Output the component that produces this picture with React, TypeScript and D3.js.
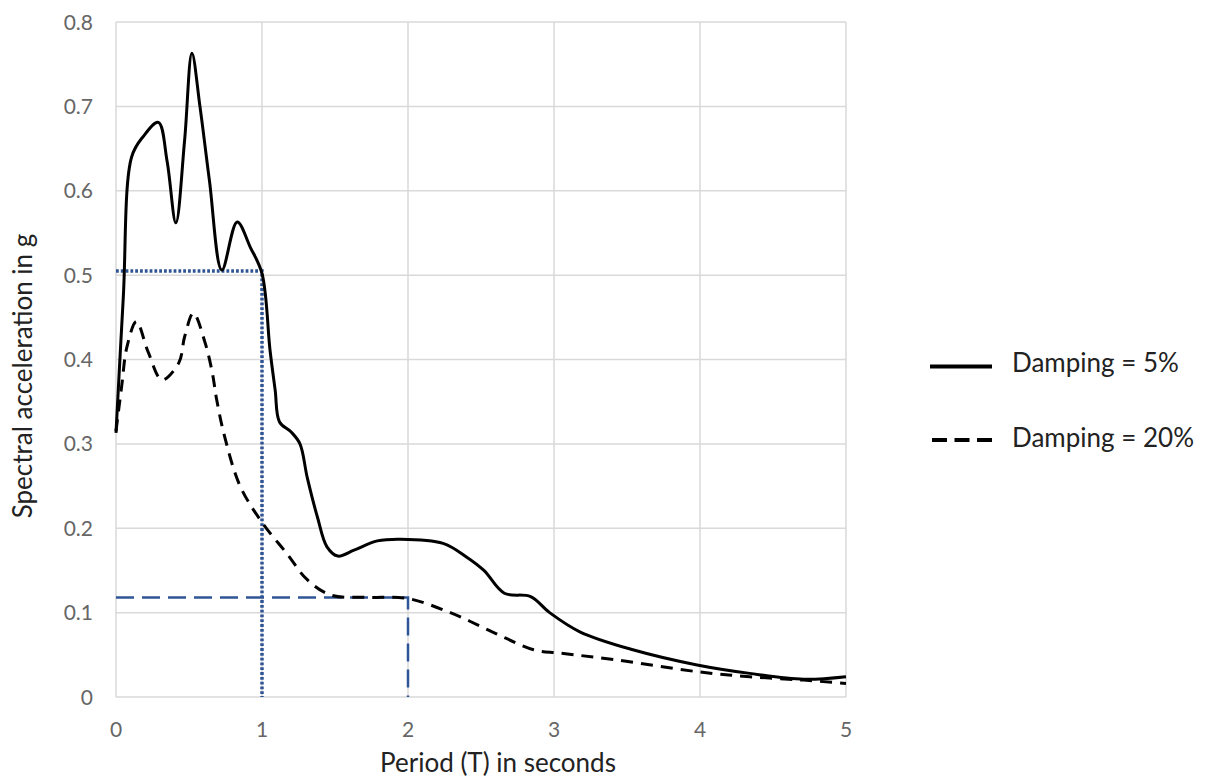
import React from "react";
import * as d3 from "d3";

const xTicks = [0, 1, 2, 3, 4, 5];
const yTicks = [0, 0.1, 0.2, 0.3, 0.4, 0.5, 0.6, 0.7, 0.8];

const period5 = [0, 0.05, 0.107, 0.185, 0.29, 0.35, 0.41, 0.47, 0.52, 0.575, 0.64, 0.725, 0.83, 0.92, 1.0, 1.055, 1.09, 1.12, 1.2, 1.26, 1.31, 1.38, 1.445, 1.52, 1.63, 1.79, 1.95, 2.24, 2.4, 2.52, 2.66, 2.84, 2.97, 3.18, 3.54, 3.98, 4.34, 4.71, 5.0];
const sa5 = [0.313, 0.474, 0.64, 0.664, 0.681, 0.635, 0.562, 0.66, 0.763, 0.7, 0.612, 0.506, 0.563, 0.533, 0.502, 0.411, 0.364, 0.326, 0.314, 0.3, 0.26, 0.213, 0.178, 0.167, 0.174, 0.185, 0.187, 0.182, 0.166, 0.15, 0.123, 0.119, 0.1, 0.077, 0.056, 0.038, 0.028, 0.021, 0.024];

const period20 = [0, 0.04, 0.075, 0.14, 0.22, 0.315, 0.43, 0.47, 0.53, 0.61, 0.66, 0.69, 0.745, 0.85, 1.0, 1.17, 1.31, 1.47, 1.72, 1.99, 2.29, 2.58, 2.86, 3.04, 3.43, 3.98, 4.34, 4.71, 5.0];
const sa20 = [0.315, 0.37, 0.415, 0.445, 0.409, 0.376, 0.396, 0.427, 0.455, 0.42, 0.384, 0.352, 0.308, 0.25, 0.207, 0.17, 0.139, 0.121, 0.118, 0.117, 0.1, 0.077, 0.056, 0.052, 0.044, 0.03, 0.024, 0.02, 0.016];

// reference guide lines: [period, Sa]
const dottedGuide = [[0, 0.505], [1, 0.505], [1, 0]];
const dashedGuide = [[0, 0.118], [2, 0.118], [2, 0]];

const legendLabels = ["Damping = 5%", "Damping = 20%"];

const W = 1207, H = 780;
const left = 116, right = 846, top = 22, bottom = 697;
const FONT = "Lato, 'Open Sans', sans-serif";

export default function App() {
  const x = d3.scaleLinear().domain([0, 5]).range([left, right]);
  const y = d3.scaleLinear().domain([0, 0.8]).range([bottom, top]);
  const line = d3
    .line<[number, number]>()
    .x((d) => x(d[0]))
    .y((d) => y(d[1]))
    .curve(d3.curveCatmullRom.alpha(0.5));
  const straight = d3
    .line<number[]>()
    .x((d) => x(d[0]))
    .y((d) => y(d[1]));

  const d5 = period5.map((p, i) => [p, sa5[i]] as [number, number]);
  const d20 = period20.map((p, i) => [p, sa20[i]] as [number, number]);
  const blue = "#2F5597";

  return (
    <svg width={W} height={H} style={{ position: "absolute", left: 0, top: 0, background: "#fff" }}>
      {yTicks.map((t) => (
        <line key={"gy" + t} x1={left} x2={right} y1={y(t)} y2={y(t)} stroke="#d9d9d9" strokeWidth={1.5} />
      ))}
      {xTicks.map((t) => (
        <line key={"gx" + t} x1={x(t)} x2={x(t)} y1={top} y2={bottom} stroke="#d9d9d9" strokeWidth={1.5} />
      ))}
      {yTicks.map((t) => (
        <text key={"ty" + t} x={93} y={y(t)} dy="0.36em" textAnchor="end" fontFamily={FONT} fontSize={21} fill="#666">
          {t === 0 ? "0" : t.toFixed(1)}
        </text>
      ))}
      {xTicks.map((t) => (
        <text key={"tx" + t} x={x(t)} y={729} dy="0.36em" textAnchor="middle" fontFamily={FONT} fontSize={21} fill="#666">
          {t}
        </text>
      ))}
      <path d={straight(dottedGuide) || ""} fill="none" stroke={blue} strokeWidth={3.5} strokeDasharray="2.8,2" />
      <path d={straight(dashedGuide) || ""} fill="none" stroke={blue} strokeWidth={2.5} strokeDasharray="18,8" />
      <path d={line(d20) || ""} fill="none" stroke="#000" strokeWidth={3} strokeDasharray="12,8" />
      <path d={line(d5) || ""} fill="none" stroke="#000" strokeWidth={3} />
      <text x={498} y={772} textAnchor="middle" fontFamily={FONT} fontSize={26} fill="#222">
        Period (T) in seconds
      </text>
      <text
        transform={`translate(32, 376) rotate(-90)`}
        textAnchor="middle"
        fontFamily={FONT}
        fontSize={26}
        fill="#222"
      >
        Spectral acceleration in g
      </text>
      <line x1={930} x2={992} y1={366.5} y2={366.5} stroke="#000" strokeWidth={4} />
      <text x={1012} y={363} dy="0.36em" fontFamily={FONT} fontSize={26} fill="#222">
        {legendLabels[0]}
      </text>
      <line x1={932} x2={992} y1={440} y2={440} stroke="#000" strokeWidth={4} strokeDasharray="15,7.5" />
      <text x={1012} y={438} dy="0.36em" fontFamily={FONT} fontSize={26} fill="#222">
        {legendLabels[1]}
      </text>
    </svg>
  );
}
